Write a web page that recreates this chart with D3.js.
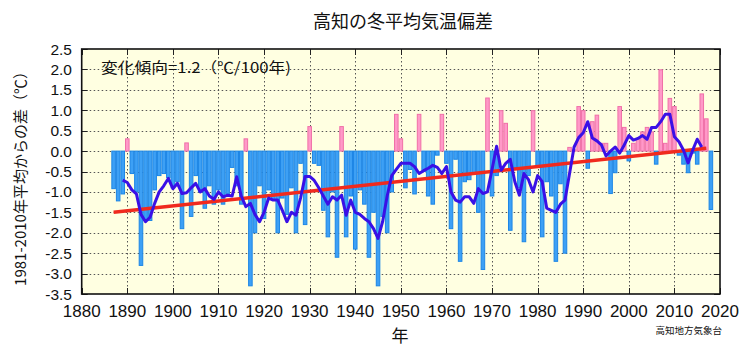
<!DOCTYPE html>
<html>
<head>
<meta charset="utf-8">
<script src="https://cdn.jsdelivr.net/npm/d3@7"></script>
<style>
  body { margin: 0; background: #fff; }
  svg { display: block; }
  .num { font-family: "Liberation Sans", Arial, sans-serif; fill: #111; }
  .jp { font-family: "Noto Sans CJK JP", sans-serif; fill: #111; }
</style>
</head>
<body>
<svg id="chart" width="750" height="350"></svg>
<script>
// winter mean temperature anomaly at Kochi, 1887-2018 (deg C, vs 1981-2010)
const firstYear = 1887;
const anomaly = [
  -0.92, -1.22, -1.05, 0.3, -0.55, -1.0, -2.8, -1.7, -1.7, -0.95,
  -0.6, -0.55, -0.65, -0.9, -0.75, -1.9, 0.2, -1.6, -0.6, -1.0,
  -1.4, -0.85, -1.3, -0.95, -1.3, -1.05, -0.4, -0.85, -1.3, 0.3,
  -3.3, -2.0, -0.85, -1.65, -0.95, -1.2, -2.0, -1.15, -1.55, -0.9,
  -2.0, -0.3, -1.8, 0.6, -0.3, -0.35, -1.45, -2.1, -1.0, -2.6,
  0.6, -2.1, -1.1, -2.4, -0.95, -1.3, -2.6, -1.5, -3.3, -1.6,
  -2.0, -1.0, 0.9, 0.3, -0.9, -0.45, -1.05, 0.9, -0.5, -1.1,
  -1.3, -0.1, 0.9, -0.3, -1.9, -0.2, -2.7, -0.75, -0.7, -0.55,
  -1.5, -2.9, 1.3, -1.1, -0.6, 0.99, 0.68, -1.94, -0.4, -0.9,
  -2.22, -0.6, 0.99, -0.4, -2.1, -0.75, -1.1, -2.7, -0.8, -2.5,
  0.09, 0.03, 1.09, 0.99, -0.42, 0.72, 0.88, 0.19, 0.19, -1.04,
  -0.53, 1.09, 0.58, -0.24, 0.19, 0.31, 0.47, 0.58, 0.47, -0.32,
  1.99, 0.19, 1.29, 1.09, -0.1, -0.32, -0.53, -0.05, -0.32, 1.4,
  0.79, -1.43
];
// 5-year running mean, 1889-2016
const meanStart = 1889;
const runningMean = [
  -0.71, -0.77, -0.95, -1.05, -1.55, -1.73, -1.62, -1.28, -1.0, -0.85,
  -0.67, -0.92, -0.79, -1.04, -1.02, -0.9, -0.79, -1.0, -0.92, -1.1,
  -1.18, -1.0, -1.12, -1.08, -1.1, -0.63, -1.1, -1.36, -1.28, -1.55,
  -1.73, -1.5, -1.15, -1.2, -1.2, -1.45, -1.73, -1.5, -1.57, -1.15,
  -0.62, -0.62, -0.72, -0.9, -1.1, -1.3, -1.12, -1.2, -1.08, -1.57,
  -1.2, -1.5, -1.55, -1.65, -1.73, -1.9, -2.14, -1.73, -1.1, -0.6,
  -0.45, -0.3, -0.3, -0.3, -0.38, -0.55, -0.48, -0.42, -0.35, -0.4,
  -0.55, -0.38, -1.0, -1.2, -1.25, -1.12, -1.12, -1.28, -0.92, -1.04,
  -1.0, -0.45, 0.12, -0.47, -0.3, -0.2, -0.75, -1.08, -0.55, -0.7,
  -1.0, -0.6, -0.75, -1.4, -1.45, -1.5, -1.3, -1.2, -0.55, 0.1,
  0.33, 0.45, 0.72, 0.32, 0.25, 0.15, -0.12, 0.0, 0.1, -0.05,
  0.15, 0.38, 0.27, 0.31, 0.38, 0.29, 0.58, 0.58, 0.72, 0.9,
  0.9, 0.35, 0.23, 0.02, -0.29, 0.02, 0.29, 0.1
];
// linear trend (1.2 C / 100 years)
const trendYears = [1887, 2017];
const trendValues = [-1.5, 0.07];

const xTicks = [1880, 1890, 1900, 1910, 1920, 1930, 1940, 1950, 1960, 1970, 1980, 1990, 2000, 2010, 2020];
const yTicks = [2.5, 2.0, 1.5, 1.0, 0.5, 0.0, -0.5, -1.0, -1.5, -2.0, -2.5, -3.0, -3.5];

const bars = anomaly.map((v, i) => ({ year: firstYear + i, value: v }));
const mean = runningMean.map((v, i) => ({ year: meanStart + i, value: v }));
const trend = trendYears.map((y, i) => ({ year: y, value: trendValues[i] }));

const svg = d3.select('#chart');
const x = d3.scaleLinear().domain([1880, 2020]).range([81.7, 720]);
const y = d3.scaleLinear().domain([-3.5, 2.5]).range([294, 49]);
const step = x(1881) - x(1880);

// plot background
svg.append('rect')
  .attr('x', x(1880)).attr('y', y(2.5))
  .attr('width', x(2020) - x(1880)).attr('height', y(-3.5) - y(2.5))
  .attr('fill', '#ffffe1');

// dotted grid
const grid = svg.append('g').attr('stroke', '#555').attr('stroke-width', 1).attr('stroke-dasharray', '1.5,2.5');
grid.selectAll('line.h').data(yTicks.slice(1, -1)).enter().append('line')
  .attr('x1', x(1880)).attr('x2', x(2020))
  .attr('y1', d => Math.round(y(d)) + 0.5).attr('y2', d => Math.round(y(d)) + 0.5);
grid.selectAll('line.v').data(xTicks.slice(1, -1)).enter().append('line')
  .attr('y1', y(2.5)).attr('y2', y(-3.5))
  .attr('x1', d => Math.round(x(d)) + 0.5).attr('x2', d => Math.round(x(d)) + 0.5);

// bars
svg.append('g').selectAll('rect').data(bars).enter().append('rect')
  .attr('x', d => x(d.year) - step / 2 + 0.5)
  .attr('width', step - 1)
  .attr('y', d => y(Math.max(0, d.value)))
  .attr('height', d => Math.abs(y(d.value) - y(0)))
  .attr('fill', d => d.value >= 0 ? '#ff99c8' : '#3da0f5')
  .attr('stroke', d => d.value >= 0 ? '#f070a8' : '#1d86e6')
  .attr('stroke-width', 1);

// trend line
const line = d3.line().x(d => x(d.year)).y(d => y(d.value));
svg.append('path').datum(trend)
  .attr('d', line).attr('fill', 'none')
  .attr('stroke', '#f02a1e').attr('stroke-width', 3.5);

// running mean
svg.append('path').datum(mean)
  .attr('d', line).attr('fill', 'none')
  .attr('stroke', '#3a10e6').attr('stroke-width', 3)
  .attr('stroke-linejoin', 'round');

// inner ticks
const ticks = svg.append('g').attr('stroke', '#222').attr('stroke-width', 1);
yTicks.forEach(t => {
  const yy = Math.round(y(t)) + 0.5;
  ticks.append('line').attr('x1', x(1880)).attr('x2', x(1880) + 6).attr('y1', yy).attr('y2', yy);
  ticks.append('line').attr('x1', x(2020) - 6).attr('x2', x(2020)).attr('y1', yy).attr('y2', yy);
});
xTicks.forEach(t => {
  const xx = Math.round(x(t)) + 0.5;
  ticks.append('line').attr('x1', xx).attr('x2', xx).attr('y1', y(-3.5)).attr('y2', y(-3.5) - 6);
  ticks.append('line').attr('x1', xx).attr('x2', xx).attr('y1', y(2.5)).attr('y2', y(2.5) + 6);
});

// frame
svg.append('rect')
  .attr('x', x(1880)).attr('y', y(2.5))
  .attr('width', x(2020) - x(1880)).attr('height', y(-3.5) - y(2.5))
  .attr('fill', 'none').attr('stroke', '#111').attr('stroke-width', 1.6);

// axis labels
svg.append('g').selectAll('text').data(yTicks).enter().append('text')
  .attr('class', 'num')
  .attr('x', 72).attr('y', d => y(d) + 5.5)
  .attr('text-anchor', 'end').attr('font-size', 15.5)
  .text(d => d.toFixed(1));

svg.append('g').selectAll('text').data(xTicks).enter().append('text')
  .attr('class', 'num')
  .attr('x', d => x(d)).attr('y', 317)
  .attr('text-anchor', 'middle').attr('font-size', 17)
  .text(d => d);

// titles
svg.append('text').attr('class', 'jp')
  .attr('x', 403).attr('y', 28).attr('text-anchor', 'middle').attr('font-size', 18)
  .text('高知の冬平均気温偏差');

svg.append('text').attr('class', 'jp')
  .attr('x', 101).attr('y', 73).attr('font-size', 15)
  .attr('textLength', 190).attr('lengthAdjust', 'spacingAndGlyphs')
  .text('変化傾向=1.2（℃/100年)');

svg.append('text').attr('class', 'jp')
  .attr('transform', 'translate(26,175) rotate(-90)')
  .attr('text-anchor', 'middle').attr('font-size', 15)
  .text('1981-2010年平均からの差（℃）');

svg.append('text').attr('class', 'jp')
  .attr('x', 400).attr('y', 342).attr('text-anchor', 'middle').attr('font-size', 17)
  .text('年');

svg.append('text').attr('class', 'jp')
  .attr('x', 722).attr('y', 334).attr('text-anchor', 'end').attr('font-size', 9.5)
  .text('高知地方気象台');
</script>
</body>
</html>
